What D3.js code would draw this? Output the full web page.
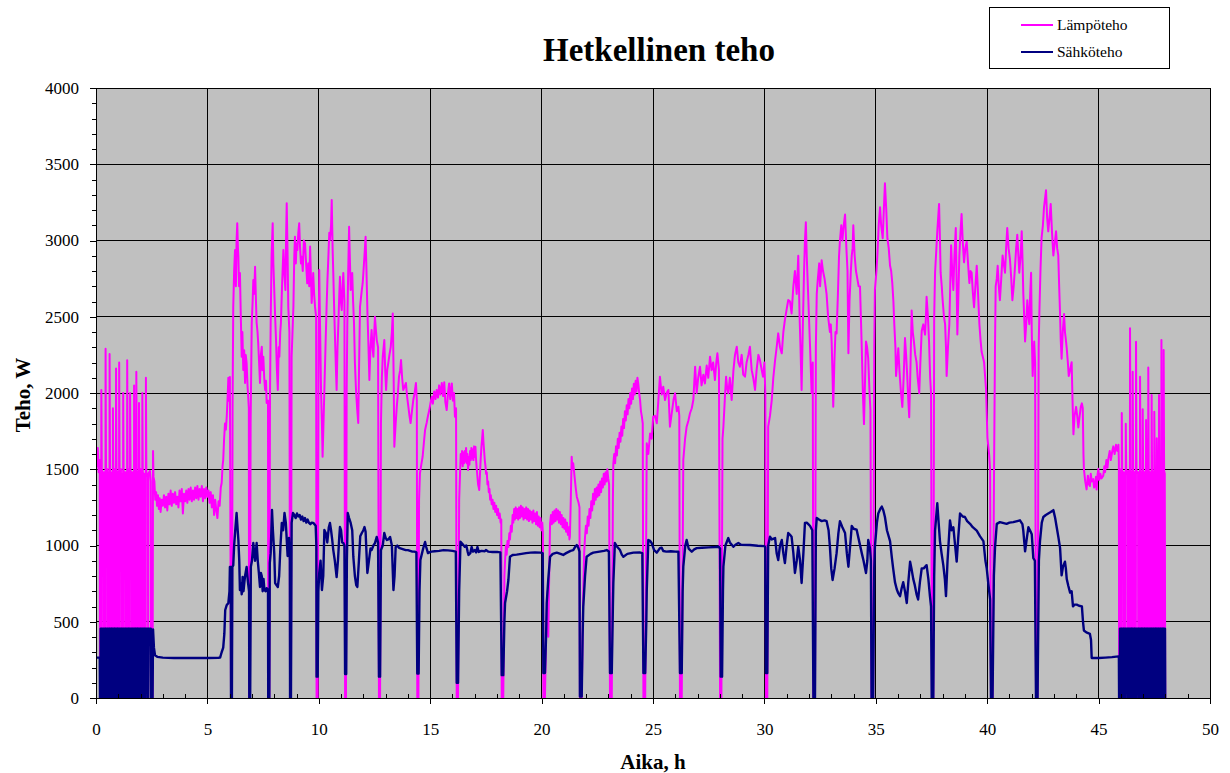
<!DOCTYPE html>
<html><head><meta charset="utf-8">
<script src="https://cdn.jsdelivr.net/npm/d3@7/dist/d3.min.js"></script>
<style>body{margin:0;background:#fff}</style>
</head><body><svg id="c" width="1230" height="773"></svg>
<script>
const chartTitle = "Hetkellinen teho";
const xLabel = "Aika, h";
const yLabel = "Teho, W";
const seriesNames = ["Lämpöteho", "Sähköteho"];
const xTicks = [0, 5, 10, 15, 20, 25, 30, 35, 40, 45, 50];
const yTicks = [0, 500, 1000, 1500, 2000, 2500, 3000, 3500, 4000];

// Lämpöteho [h, W]
const lampoteho = [
[0,1600],[0.04,1520],[0.08,1640],[0.12,1480],[0.17,1560],[0.18,0],[0.23,0],[0.24,2020],[0.26,1500],[0.32,1460],[0.33,0],[0.35,0],[0.36,1480],[0.41,1450],[0.42,0],[0.43,2290],[0.45,1480],[0.51,1500],[0.52,0],[0.53,0],[0.54,1460],[0.59,1480],[0.60,0],[0.61,2255],[0.63,1500],[0.68,1450],[0.69,0],[0.70,1470],[0.74,1480],[0.75,0],[0.76,1900],[0.78,1460],[0.82,1500],[0.83,0],[0.84,1450],[0.88,1480],[0.89,0],[0.90,2160],[0.92,1500],[0.96,1460],[0.97,0],[0.98,1480],[1.02,1450],[1.03,0],[1.04,2200],[1.06,1480],[1.12,1500],[1.13,0],[1.14,1470],[1.20,1450],[1.21,0],[1.22,2000],[1.24,1490],[1.30,1460],[1.31,0],[1.32,1480],[1.38,1450],[1.39,0],[1.40,2215],[1.42,1480],[1.46,1500],[1.47,0],[1.48,1470],[1.51,1450],[1.52,0],[1.53,2000],[1.55,1490],[1.61,1460],[1.62,0],[1.63,1480],[1.69,1450],[1.70,0],[1.71,2050],[1.73,1480],[1.75,1460],[1.76,0],[1.77,1470],[1.79,1450],[1.80,0],[1.81,2140],[1.83,1490],[1.86,1470],[1.87,0],[1.88,1480],[1.91,1450],[1.92,0],[1.93,1935],[1.95,1480],[2.00,1500],[2.01,0],[2.02,1470],[2.06,1450],[2.07,0],[2.08,2000],[2.10,1480],[2.15,1460],[2.16,0],[2.17,1470],[2.22,1450],[2.23,0],[2.24,2100],[2.26,1480],[2.33,1450],[2.34,0],[2.35,1470],[2.42,1490],[2.46,1420],[2.47,0],[2.54,0],[2.56,1620],[2.58,1450],
[2.62,1420],[2.66,1300],[2.70,1350],[2.74,1260],[2.78,1330],[2.82,1240],[2.86,1310],[2.90,1220],[2.95,1300],[3.00,1260],[3.05,1330],[3.10,1250],[3.15,1320],[3.20,1230],[3.25,1340],[3.30,1270],[3.35,1360],[3.40,1260],[3.45,1340],[3.50,1280],[3.55,1350],[3.60,1270],[3.65,1320],[3.70,1250],[3.75,1360],[3.80,1290],[3.85,1370],[3.90,1210],[3.95,1340],[4.00,1290],[4.05,1360],[4.10,1280],[4.15,1370],[4.20,1300],[4.25,1380],[4.30,1290],[4.35,1360],[4.40,1300],[4.45,1380],[4.50,1310],[4.55,1390],[4.60,1300],[4.65,1370],[4.70,1320],[4.75,1390],[4.80,1290],[4.85,1370],[4.90,1310],[4.95,1380],[5.00,1320],[5.05,1360],[5.10,1280],[5.15,1350],[5.20,1250],[5.25,1330],[5.30,1200],[5.35,1300],[5.40,1230],[5.45,1180],[5.50,1290],[5.55,1260],[5.60,1380],[5.64,1410],[5.68,1520],[5.71,1560],[5.75,1700],[5.79,1800],[5.83,1760],[5.87,1850],[5.91,1980],[5.94,2100],[5.97,1950],[6.01,2105],[6.03,1200],
[6.06,0],[6.10,0],[6.13,1900],[6.16,2566],[6.20,2800],[6.24,2938],[6.28,2700],[6.31,3000],[6.34,3113],[6.37,2950],[6.39,2894],[6.42,2700],[6.46,2787],[6.50,2500],[6.54,2238],[6.57,2400],[6.61,2151],[6.65,2280],[6.69,2066],[6.72,2250],[6.76,2197],[6.80,2050],[6.84,1954],[6.86,1900],[6.87,0],[6.91,0],[6.94,1800],[6.99,2459],[7.03,2600],[7.06,2741],[7.10,2650],[7.14,2828],[7.18,2600],[7.21,2459],[7.25,2400],[7.28,2328],[7.32,2200],[7.36,2066],[7.40,2250],[7.44,2303],[7.47,2150],[7.51,2238],[7.55,2100],[7.59,2020],[7.63,2080],[7.66,1934],[7.72,1950],[7.73,0],[7.78,0],[7.81,2000],[7.84,2459],[7.88,2900],[7.93,3113],[7.96,2850],[8.00,2675],[8.04,2500],[8.08,2347],[8.12,2150],[8.16,2020],[8.20,2300],[8.23,2238],[8.27,2400],[8.30,2459],[8.35,2700],[8.41,2938],[8.45,2800],[8.50,2675],[8.53,3000],[8.56,3244],[8.60,2900],[8.63,2566],[8.68,2400],[8.71,0],[8.75,0],[8.78,2238],[8.82,2400],[8.86,2566],[8.90,2900],[8.93,3025],[8.97,2850],[9.00,2980],[9.04,2938],[9.08,3050],[9.12,3113],[9.16,2950],[9.20,2850],[9.23,2894],[9.28,2800],[9.33,3000],[9.38,2981],[9.43,2850],[9.48,2719],[9.53,2850],[9.57,2700],[9.61,2960],[9.65,2750],[9.68,2590],[9.72,2700],[9.75,2787],[9.79,2650],[9.83,2566],[9.88,2500],[9.90,0],[9.95,0],[9.99,2300],[10.02,2806],[10.06,2400],[10.10,2020],[10.14,1800],[10.17,1582],[10.21,1800],[10.25,2020],[10.30,2300],[10.35,2566],[10.39,2750],[10.43,2894],[10.47,3050],[10.50,3003],[10.55,3100],[10.58,3265],
[10.62,2950],[10.65,2787],[10.69,2550],[10.73,2347],[10.77,2150],[10.80,2020],[10.84,2300],[10.88,2459],[10.92,2650],[10.95,2762],[10.99,2600],[11.03,2544],[11.07,2700],[11.10,2787],[11.15,2600],[11.18,0],[11.22,0],[11.25,2000],[11.28,2459],[11.32,2800],[11.36,3090],[11.40,2850],[11.43,2675],[11.47,2700],[11.50,2787],[11.54,2600],[11.58,2459],[11.62,2200],[11.67,2020],[11.72,1900],[11.77,1803],[11.81,2200],[11.85,2566],[11.89,2620],[11.93,2675],[11.97,2720],[12.00,2787],[12.05,2900],[12.10,3025],[12.14,2800],[12.18,2544],[12.23,2300],[12.27,2085],[12.32,2300],[12.37,2413],[12.41,2300],[12.45,2238],[12.49,2400],[12.52,2500],[12.56,2420],[12.60,2347],[12.66,2300],[12.70,0],[12.75,0],[12.79,1803],[12.83,2100],[12.87,2238],[12.91,2300],[12.94,2347],[12.98,2150],[13.02,2020],[13.07,2150],[13.12,2197],[13.17,2250],[13.23,2303],[13.28,2400],[13.32,2522],[13.36,2100],[13.39,1648],[13.45,1800],[13.50,1910],[13.55,2000],[13.60,2107],[13.65,2150],[13.69,2216],[13.74,2100],[13.79,2020],[13.85,2040],[13.91,2066],[13.96,1980],[14.02,1910],[14.07,1850],[14.12,1803],[14.18,1880],[14.24,1954],[14.30,2000],[14.36,2066],[14.40,1950],[14.42,0],[14.47,0],[14.50,1300],[14.54,1473],[14.60,1530],[14.66,1582],[14.72,1680],[14.77,1757],[14.84,1803],[14.90,1850],[14.96,1888],[15.02,1940],[15.07,1976],[15.12,1930],[15.18,2010],[15.24,1960],[15.29,2020],[15.35,1970],[15.40,2050],[15.46,1990],[15.52,2066],[15.58,1980],[15.63,2070],[15.68,1940],[15.74,1888],[15.80,2000],[15.85,2063],[15.90,1960],[15.97,2063],[16.02,1950],[16.07,2000],[16.11,1845],[16.16,1900],[16.19,0],[16.25,0],
[16.30,1300],[16.34,1473],[16.37,1600],[16.40,1540],[16.43,1620],[16.46,1520],[16.49,1610],[16.52,1540],[16.55,1620],[16.58,1550],[16.61,1640],[16.64,1540],[16.67,1600],[16.70,1495],[16.73,1580],[16.76,1530],[16.79,1620],[16.82,1560],[16.85,1640],[16.88,1570],[16.91,1630],[16.94,1560],[16.97,1650],[17.00,1580],[17.03,1648],[17.06,1560],[17.09,1500],[17.12,1450],[17.15,1400],[17.18,1380],[17.20,1364],[17.23,1450],[17.26,1550],[17.30,1650],[17.33,1700],[17.36,1757],[17.39,1680],[17.42,1620],[17.45,1560],[17.48,1520],[17.51,1470],[17.54,1480],[17.57,1400],[17.60,1420],[17.63,1350],[17.66,1370],[17.69,1300],[17.72,1330],[17.76,1270],[17.80,1300],[17.84,1240],[17.88,1280],[17.92,1220],[17.96,1260],[18.00,1200],[18.04,1240],[18.08,1180],[18.12,1210],[18.16,1150],[18.19,1170],[18.21,0],
[18.28,0],[18.33,800],[18.36,900],[18.40,1000],[18.43,940],[18.47,1030],[18.51,990],[18.55,1080],[18.58,1040],[18.62,1130],[18.66,1090],[18.70,1200],[18.73,1150],[18.77,1240],[18.80,1170],[18.84,1250],[18.88,1180],[18.92,1240],[18.95,1170],[18.99,1250],[19.03,1180],[19.07,1260],[19.11,1190],[19.15,1250],[19.19,1170],[19.23,1240],[19.27,1180],[19.31,1250],[19.35,1170],[19.39,1240],[19.43,1160],[19.47,1230],[19.51,1170],[19.55,1220],[19.59,1150],[19.63,1230],[19.67,1160],[19.71,1210],[19.75,1140],[19.79,1220],[19.83,1130],[19.87,1190],[19.91,1120],[19.95,1180],[19.99,1100],[20.03,1150],[20.06,1080],[20.08,0],[20.15,0],[20.20,400],[20.23,533],[20.27,700],[20.30,402],[20.34,800],
[20.38,1145],[20.42,1200],[20.46,1140],[20.50,1220],[20.54,1150],[20.58,1230],[20.62,1160],[20.66,1240],[20.70,1170],[20.74,1230],[20.78,1150],[20.82,1220],[20.86,1140],[20.90,1200],[20.94,1120],[20.98,1180],[21.02,1110],[21.06,1170],[21.10,1090],[21.14,1150],[21.18,1070],[21.22,1120],[21.25,1040],[21.27,1058],[21.31,1300],[21.35,1582],[21.38,1500],[21.42,1539],[21.48,1450],[21.53,1380],[21.58,1320],[21.66,1280],[21.70,1250],[21.72,0],[21.80,0],
[21.87,700],[21.91,950],[21.95,1058],[21.99,1130],[22.03,1080],[22.07,1190],[22.11,1130],[22.15,1240],[22.19,1180],[22.23,1290],[22.27,1230],[22.31,1340],[22.35,1270],[22.39,1370],[22.43,1300],[22.47,1380],[22.51,1320],[22.55,1400],[22.59,1330],[22.63,1420],[22.67,1350],[22.71,1440],[22.75,1380],[22.79,1470],[22.83,1400],[22.87,1480],[22.91,1420],[22.95,1500],[22.99,1440],[23.03,1400],[23.07,0],[23.15,0],[23.20,1300],
[23.22,1539],[23.26,1600],[23.30,1540],[23.34,1650],[23.38,1590],[23.42,1700],[23.46,1640],[23.50,1740],[23.54,1680],[23.58,1780],[23.62,1720],[23.66,1830],[23.70,1770],[23.74,1880],[23.78,1820],[23.82,1920],[23.86,1860],[23.90,1960],[23.94,1900],[23.98,2000],[24.02,1930],[24.06,2030],[24.10,1960],[24.14,2060],[24.18,1990],[24.22,2080],[24.26,2010],[24.30,2100],[24.34,2060],[24.38,2000],[24.42,1954],[24.46,1880],[24.50,1845],[24.54,1800],[24.57,0],[24.65,0],
[24.72,1670],[24.79,1600],[24.87,1735],[24.94,1700],[25.01,1845],[25.09,1850],[25.17,1801],[25.24,1950],[25.31,2107],[25.39,1990],[25.46,2041],[25.54,1954],[25.61,2000],[25.69,2020],[25.76,1779],[25.84,1867],[25.92,1954],[25.99,1998],[26.07,1880],[26.14,1910],[26.18,1850],[26.21,0],[26.29,0],[26.36,1561],[26.44,1700],[26.51,1779],[26.59,1820],[26.66,1867],[26.74,1900],[26.81,1954],[26.89,2172],[26.96,2000],[27.03,2100],[27.11,2172],[27.18,2050],[27.26,2120],[27.33,2063],[27.41,2180],[27.48,2100],[27.56,2238],[27.63,2150],[27.70,2200],[27.78,2085],[27.84,2200],[27.89,2260],[27.96,2150],[28.01,0],[28.07,0],[28.12,1700],[28.16,1779],[28.22,1950],[28.28,2107],[28.33,2030],[28.38,1998],[28.45,2100],[28.53,1954],[28.61,2150],[28.68,2250],[28.76,2303],[28.83,2200],[28.90,2172],[28.98,2250],[29.05,2120],[29.13,2107],[29.20,2200],[29.28,2250],[29.35,2303],[29.43,2150],[29.50,2100],[29.58,2020],[29.65,2150],[29.73,2250],[29.80,2216],[29.88,2150],[29.94,2107],[30.00,2200],[30.04,2000],[30.07,0],[30.13,0],[30.17,1779],[30.25,1850],[30.33,1954],[30.40,2100],[30.48,2216],[30.55,2300],[30.62,2391],[30.70,2300],[30.78,2260],[30.85,2400],[30.92,2479],[31.00,2550],[31.07,2610],[31.15,2600],[31.22,2522],[31.30,2700],[31.37,2800],[31.45,2650],[31.52,2900],[31.58,2500],[31.62,2300],[31.67,2020],[31.72,2400],[31.78,2800],[31.82,3000],[31.86,3120],[31.90,2900],[31.95,2700],[32.00,2500],[32.05,2300],[32.12,2000],[32.17,2200],[32.20,0],[32.27,0],[32.31,2300],[32.35,2650],[32.40,2750],[32.46,2850],[32.50,2700],[32.57,2870],[32.63,2800],[32.70,2750],[32.79,2650],[32.86,2500],[32.94,2400],[32.98,2450],[33.02,2328],[33.06,2100],[33.09,1910],[33.14,2200],[33.19,2400],[33.24,2391],[33.30,2650],[33.35,2900],[33.39,3000],[33.45,3100],[33.50,3000],[33.56,3100],[33.62,3170],[33.68,2950],[33.73,2800],[33.77,2260],[33.82,2600],[33.88,2800],[33.92,2900],[33.96,2950],[33.99,3100],[34.05,2900],[34.11,2800],[34.17,2750],[34.23,2700],[34.29,2699],[34.33,2500],[34.37,2293],[34.42,2000],[34.47,1796],[34.52,2100],[34.56,2338],[34.61,2300],[34.66,2225],[34.72,2000],[34.76,1887],[34.81,0],[34.88,0],[34.93,2300],[34.96,2676],[35.03,2800],[35.07,2902],[35.13,3100],[35.19,3218],[35.24,3100],[35.31,3015],[35.36,3200],[35.41,3375],[35.47,3200],[35.52,3015],[35.58,2950],[35.64,2834],[35.69,2800],[35.74,2721],[35.79,2600],[35.83,2451],[35.88,2300],[35.91,2112],[35.96,2200],[36.01,2293],[36.06,2150],[36.12,2022],[36.19,1909],[36.25,2100],[36.31,2360],[36.36,2250],[36.41,2112],[36.46,1950],[36.50,1841],[36.56,2200],[36.61,2541],[36.66,2400],[36.71,2338],[36.77,2250],[36.83,2202],[36.88,2100],[36.95,1999],[37.00,2200],[37.06,2406],[37.13,2450],[37.21,2383],[37.25,2500],[37.28,2631],[37.34,2500],[37.39,2338],[37.44,2100],[37.48,1999],[37.52,0],[37.58,0],[37.62,2500],[37.66,2789],[37.72,2950],[37.76,3060],[37.84,3240],[37.88,3000],[37.91,2789],[37.96,2700],[38.00,2609],[38.06,2500],[38.11,2451],[38.15,2300],[38.18,2112],[38.24,2300],[38.30,2451],[38.34,2700],[38.38,2969],[38.43,2800],[38.48,2676],[38.53,2900],[38.59,3082],[38.63,2700],[38.66,2383],[38.70,2600],[38.75,2902],[38.80,3050],[38.85,3173],[38.90,3000],[38.96,2857],[39.02,2950],[39.08,2992],[39.14,2850],[39.20,2721],[39.25,2800],[39.30,2789],[39.36,2650],[39.41,2563],[39.47,2700],[39.53,2834],[39.59,2650],[39.65,2451],[39.70,2350],[39.75,2270],[39.80,2240],[39.86,2202],[39.91,2100],[39.95,2022],[40.01,1706],[40.05,1650],[40.09,1593],[40.13,1500],[40.17,0],[40.24,0],[40.31,1548],[40.35,2300],[40.38,2699],[40.43,2750],[40.47,2834],[40.52,2700],[40.57,2609],[40.63,2750],[40.69,2902],[40.74,2850],[40.80,2789],[40.85,2950],[40.90,3082],[40.96,2950],[41.02,2879],[41.08,2750],[41.13,2609],[41.19,2700],[41.25,2834],[41.30,2950],[41.35,3037],[41.40,2900],[41.44,2789],[41.50,2900],[41.55,3060],[41.59,2850],[41.62,2654],[41.66,2500],[41.70,2338],[41.75,2450],[41.80,2609],[41.85,2500],[41.89,2451],[41.93,2650],[41.97,2789],[42.00,2400],[42.04,2112],[42.08,2250],[42.11,2338],[42.15,2200],[42.19,0],[42.26,0],[42.31,2300],[42.34,2518],[42.39,2800],[42.44,3015],[42.50,3100],[42.55,3218],[42.60,3280],[42.64,3330],[42.69,3150],[42.74,3060],[42.80,3150],[42.85,3240],[42.91,3050],[42.97,2902],[43.03,2980],[43.09,3060],[43.14,2950],[43.19,2902],[43.23,2700],[43.27,2518],[43.30,2350],[43.34,2225],[43.39,2400],[43.45,2518],[43.49,2400],[43.53,2350],[43.57,2293],[43.62,2200],[43.66,2112],[43.72,2150],[43.79,2202],[43.83,1950],[43.87,1729],[43.92,1850],[43.99,1909],[44.04,1850],[44.09,1774],[44.15,1850],[44.20,1909],[44.25,1932],[44.29,1900],[44.32,1600],[44.34,1503],[44.40,1420],[44.46,1368],[44.52,1458],[44.57,1400],[44.61,1390],[44.65,1470],[44.69,1420],[44.76,1435],[44.80,1380],[44.84,1390],[44.88,1450],[44.91,1368],[44.95,1460],[44.99,1503],[45.03,1430],[45.08,1470],[45.13,1440],[45.21,1458],[45.26,1520],[45.29,1481],[45.35,1560],[45.40,1510],[45.44,1571],[45.50,1620],[45.55,1560],[45.61,1616],[45.66,1650],[45.72,1600],[45.78,1660],[45.84,1620],[45.89,1661],
[45.91,1550],[45.92,0],[45.95,0],[45.96,1500],[46.00,1480],[46.03,0],[46.04,1869],[46.06,1490],[46.12,1460],[46.13,0],[46.14,1480],[46.20,1470],[46.21,0],[46.22,1798],[46.24,1480],[46.31,1460],[46.32,0],[46.33,1490],[46.39,1470],[46.40,0],[46.41,2424],[46.43,1490],[46.46,1460],[46.47,0],[46.48,1480],[46.51,1460],[46.52,0],[46.53,2140],[46.55,1490],[46.60,1470],[46.61,0],[46.62,1480],[46.66,1460],[46.67,0],[46.68,2336],[46.70,1490],[46.77,1470],[46.78,0],[46.79,1480],[46.84,1460],[46.85,0],[46.86,2107],[46.88,1490],[46.92,1460],[46.93,0],[46.94,1480],[46.96,1470],[46.97,0],[46.98,1893],[47.00,1490],[47.05,1460],[47.06,0],[47.07,1480],[47.11,1470],[47.12,0],[47.13,1823],[47.15,1490],[47.17,1460],[47.18,0],[47.19,1480],[47.21,1470],[47.22,0],[47.23,2168],[47.25,1490],[47.30,1460],[47.31,0],[47.32,1480],[47.36,1470],[47.37,0],[47.38,1987],[47.40,1490],[47.44,1460],[47.45,0],[47.46,1480],[47.48,1470],[47.49,0],[47.50,1877],[47.52,1490],[47.55,1460],[47.56,0],[47.57,1480],[47.59,1470],[47.60,0],[47.61,1703],[47.63,1490],[47.66,1460],[47.67,0],[47.68,1480],[47.69,1470],[47.70,0],[47.71,1987],[47.73,1490],[47.76,1460],[47.77,0],[47.78,1480],[47.80,1470],[47.81,0],[47.82,2347],[47.84,1490],[47.87,1460],[47.88,0],[47.89,1480],[47.90,1470],[47.91,0],[47.92,2282],[47.94,1490],[47.97,1470],[47.99,0],[48.00,0]
];

// Sähköteho [h, W]
const sahkoteho = [
[0,265],[0.17,265],[0.18,0],[0.20,0],[0.21,455],[0.22,455],[0.23,0],[0.24,265],[0.25,455],[0.32,455],[0.33,0],[0.35,0],[0.36,455],[0.41,455],[0.42,0],[0.43,265],[0.44,455],[0.51,455],[0.52,0],[0.53,265],[0.54,455],[0.59,455],[0.60,0],[0.61,265],[0.62,455],[0.68,455],[0.69,0],[0.70,455],[0.74,455],[0.75,0],[0.76,265],[0.77,455],[0.82,455],[0.83,0],[0.84,455],[0.88,455],[0.89,0],[0.90,265],[0.91,455],[0.96,455],[0.97,0],[0.98,455],[1.02,455],[1.03,0],[1.04,265],[1.05,455],[1.12,455],[1.13,0],[1.14,455],[1.20,455],[1.21,0],[1.22,265],[1.23,455],[1.30,455],[1.31,0],[1.32,455],[1.38,455],[1.39,0],[1.40,265],[1.41,455],[1.46,455],[1.47,0],[1.48,455],[1.51,455],[1.52,0],[1.53,265],[1.54,455],[1.61,455],[1.62,0],[1.63,455],[1.69,455],[1.70,0],[1.71,265],[1.72,455],[1.75,455],[1.76,0],[1.77,455],[1.79,455],[1.80,0],[1.81,265],[1.82,455],[1.86,455],[1.87,0],[1.88,455],[1.91,455],[1.92,0],[1.93,265],[1.94,455],[2.00,455],[2.01,0],[2.02,455],[2.06,455],[2.07,0],[2.08,265],[2.09,455],[2.15,455],[2.16,0],[2.17,455],[2.22,455],[2.23,0],[2.24,265],[2.25,455],[2.33,455],[2.34,0],[2.35,265],[2.36,455],[2.46,455],[2.47,0],[2.54,0],[2.56,450],[2.60,330],[2.65,280],[2.75,270],[3.00,265],[3.5,262],[4.0,262],[4.5,262],[5.0,262],[5.5,264],[5.57,265],[5.64,300],[5.71,330],[5.76,420],[5.80,577],[5.87,610],[5.94,622],[5.99,700],[6.01,860],[6.05,860],
[6.06,0],[6.10,0],[6.12,860],[6.16,870],[6.20,1000],[6.25,1100],[6.31,1213],[6.36,1100],[6.39,1036],[6.43,900],[6.46,708],[6.50,750],[6.54,680],[6.58,793],[6.62,700],[6.66,760],[6.69,800],[6.76,860],[6.82,760],[6.87,700],[6.88,0],[6.92,0],[6.95,860],[7.00,900],[7.06,1016],[7.10,950],[7.14,900],[7.21,1016],[7.26,900],[7.31,820],[7.36,728],[7.40,820],[7.44,800],[7.48,700],[7.52,780],[7.56,708],[7.62,700],[7.66,720],[7.72,708],[7.73,0],[7.78,0],[7.80,885],[7.84,950],[7.90,1233],[7.94,1100],[8.00,950],[8.04,754],[8.10,740],[8.16,728],[8.22,800],[8.28,1000],[8.34,1148],[8.40,1100],[8.46,1213],[8.52,1150],[8.60,931],[8.66,1050],[8.70,900],[8.71,0],[8.75,0],[8.78,1148],[8.84,1213],[8.90,1200],[8.96,1180],[9.02,1210],[9.08,1190],[9.14,1200],[9.20,1170],[9.26,1190],[9.32,1160],[9.38,1180],[9.44,1150],[9.50,1170],[9.56,1148],[9.62,1140],[9.68,1150],[9.75,1148],[9.80,1140],[9.86,1130],[9.89,1000],[9.90,140],[9.95,140],[9.98,700],[10.02,820],[10.08,900],[10.14,708],[10.20,800],[10.25,1102],[10.32,1080],[10.38,1020],[10.45,1120],[10.50,1148],[10.55,1100],[10.60,1040],[10.65,970],[10.72,900],[10.80,793],[10.86,900],[10.92,1060],[10.95,1121],[11.00,1100],[11.05,1020],[11.10,1016],[11.15,1000],[11.18,157],[11.23,157],[11.26,900],[11.30,1213],[11.36,1180],[11.43,1148],[11.50,1100],[11.55,925],[11.62,800],[11.68,740],[11.73,728],[11.80,900],[11.86,1060],[11.93,1082],[12.00,1100],[12.05,1121],[12.10,1090],[12.18,820],[12.25,900],[12.32,980],[12.37,970],[12.45,1000],[12.52,1016],[12.60,1056],[12.66,1020],[12.70,140],[12.75,140],[12.79,970],[12.87,1000],[12.94,1082],[13.00,1050],[13.06,1036],[13.12,1040],[13.20,1056],[13.28,1000],[13.35,708],[13.40,800],[13.45,990],[13.52,1000],[13.60,985],[13.70,980],[13.80,975],[13.90,970],[14.00,970],[14.10,965],[14.20,960],[14.30,960],[14.38,955],[14.42,160],[14.48,160],[14.52,700],[14.56,905],[14.65,960],[14.72,1000],[14.77,1023],[14.82,990],[14.90,950],[14.96,955],[15.05,960],[15.20,962],[15.40,965],[15.60,970],[15.80,968],[16.00,965],[16.15,960],[16.19,100],[16.25,100],[16.30,700],[16.36,1025],[16.45,1010],[16.55,992],[16.62,1000],[16.68,960],[16.72,938],[16.80,950],[16.86,990],[16.92,960],[17.00,970],[17.06,955],[17.12,990],[17.18,958],[17.30,965],[17.45,962],[17.50,970],[17.60,960],[17.80,957],[18.00,958],[18.15,955],[18.21,150],[18.28,150],[18.33,500],[18.36,623],[18.45,700],[18.51,774],[18.58,926],[18.70,938],[18.88,940],[19.10,945],[19.30,950],[19.50,953],[19.70,955],[19.95,953],[20.05,950],[20.08,164],[20.15,164],[20.20,400],[20.23,623],[20.30,780],[20.38,926],[20.50,945],[20.68,953],[20.85,945],[20.97,938],[21.10,950],[21.30,965],[21.42,970],[21.50,990],[21.58,1003],[21.66,980],[21.70,960],[21.72,10],[21.80,10],[21.84,400],[21.87,598],[21.95,800],[22.02,926],[22.20,945],[22.32,953],[22.60,960],[22.80,965],[22.92,970],[23.02,960],[23.07,164],[23.15,164],[23.20,600],[23.22,754],[23.29,1016],[23.40,990],[23.52,970],[23.60,940],[23.67,926],[23.85,945],[24.12,953],[24.40,955],[24.52,950],[24.57,164],[24.65,164],[24.70,500],[24.72,708],[24.79,1036],[24.87,1030],[24.94,1016],[25.05,970],[25.17,953],[25.25,970],[25.31,983],[25.39,986],[25.46,964],[25.60,960],[25.80,962],[26.00,960],[26.14,959],[26.21,164],[26.29,164],[26.33,700],[26.36,861],[26.45,1000],[26.51,1036],[26.60,980],[26.74,959],[26.85,975],[26.96,983],[27.20,985],[27.50,988],[27.80,990],[27.95,992],[28.01,980],[28.04,140],[28.10,140],[28.14,700],[28.16,861],[28.25,1000],[28.38,1049],[28.45,1020],[28.61,992],[28.70,1005],[28.83,1016],[28.95,1005],[29.35,1003],[29.70,998],[30.00,996],[30.04,990],[30.07,164],[30.13,164],[30.17,1000],[30.25,1058],[30.33,1040],[30.48,1049],[30.55,950],[30.62,905],[30.70,1000],[30.78,1036],[30.85,950],[30.92,885],[31.00,1000],[31.07,1082],[31.15,1070],[31.22,1058],[31.30,950],[31.37,820],[31.45,900],[31.52,992],[31.60,900],[31.67,754],[31.75,950],[31.82,1148],[31.90,1150],[31.97,1140],[32.05,1128],[32.15,1100],[32.20,0],[32.27,0],[32.31,1100],[32.35,1180],[32.45,1170],[32.57,1160],[32.70,1165],[32.79,1160],[32.88,1100],[32.94,992],[33.00,850],[33.06,774],[33.15,850],[33.24,950],[33.32,1080],[33.39,1160],[33.50,1120],[33.62,1082],[33.70,950],[33.77,861],[33.85,1000],[33.92,1128],[34.00,1110],[34.14,1104],[34.22,1050],[34.37,950],[34.45,900],[34.56,820],[34.62,900],[34.66,1036],[34.74,980],[34.78,900],[34.81,0],[34.88,0],[34.93,850],[34.96,992],[35.05,1150],[35.11,1210],[35.20,1240],[35.27,1255],[35.34,1230],[35.41,1187],[35.50,1100],[35.64,1029],[35.72,920],[35.78,849],[35.86,760],[35.94,713],[36.00,690],[36.09,668],[36.16,720],[36.23,759],[36.31,700],[36.39,623],[36.46,760],[36.54,894],[36.60,850],[36.68,781],[36.75,740],[36.83,680],[36.90,646],[36.98,760],[37.06,849],[37.15,850],[37.28,871],[37.36,780],[37.43,668],[37.48,600],[37.51,0],[37.58,0],[37.62,800],[37.66,1097],[37.76,1277],[37.82,1150],[37.88,1029],[37.95,950],[38.03,871],[38.10,780],[38.15,668],[38.22,900],[38.33,1165],[38.40,1100],[38.48,1120],[38.56,1000],[38.63,894],[38.70,1050],[38.78,1210],[38.90,1190],[39.00,1187],[39.10,1160],[39.23,1142],[39.35,1120],[39.53,1097],[39.68,1060],[39.83,1029],[39.92,900],[39.98,849],[40.05,750],[40.13,646],[40.17,0],[40.24,0],[40.30,800],[40.35,984],[40.43,1142],[40.57,1153],[40.70,1148],[40.87,1142],[41.00,1150],[41.17,1153],[41.35,1160],[41.47,1165],[41.58,1140],[41.62,1097],[41.70,962],[41.78,1050],[41.85,1120],[41.92,1100],[42.00,1074],[42.07,917],[42.14,900],[42.19,0],[42.26,0],[42.32,900],[42.37,1029],[42.45,1150],[42.52,1187],[42.63,1200],[42.74,1210],[42.85,1220],[42.97,1232],[43.05,1180],[43.12,1120],[43.20,1050],[43.27,984],[43.34,804],[43.40,860],[43.49,894],[43.53,850],[43.57,780],[43.64,736],[43.72,691],[43.79,700],[43.85,601],[43.92,612],[44.02,612],[44.12,605],[44.25,601],[44.30,500],[44.34,443],[44.45,430],[44.61,420],[44.66,380],[44.69,262],[44.80,262],[45.00,262],[45.30,265],[45.60,268],[45.89,273],
[45.91,273],[45.92,0],[45.95,0],[45.96,455],[46.02,455],[46.03,0],[46.04,265],[46.05,455],[46.12,455],[46.13,0],[46.14,455],[46.20,455],[46.21,0],[46.22,265],[46.23,455],[46.31,455],[46.32,0],[46.33,455],[46.39,455],[46.40,0],[46.41,265],[46.42,455],[46.46,455],[46.47,0],[46.48,455],[46.51,455],[46.52,0],[46.53,265],[46.54,455],[46.60,455],[46.61,0],[46.62,455],[46.66,455],[46.67,0],[46.68,265],[46.69,455],[46.77,455],[46.78,0],[46.79,455],[46.84,455],[46.85,0],[46.86,265],[46.87,455],[46.92,455],[46.93,0],[46.94,455],[46.96,455],[46.97,0],[46.98,265],[46.99,455],[47.05,455],[47.06,0],[47.07,455],[47.11,455],[47.12,0],[47.13,265],[47.14,455],[47.17,455],[47.18,0],[47.19,455],[47.21,455],[47.22,0],[47.23,265],[47.24,455],[47.30,455],[47.31,0],[47.32,455],[47.36,455],[47.37,0],[47.38,265],[47.39,455],[47.44,455],[47.45,0],[47.46,455],[47.48,455],[47.49,0],[47.50,265],[47.51,455],[47.55,455],[47.56,0],[47.57,455],[47.59,455],[47.60,0],[47.61,265],[47.62,455],[47.66,455],[47.67,0],[47.68,455],[47.69,455],[47.70,0],[47.71,265],[47.72,455],[47.76,455],[47.77,0],[47.78,455],[47.80,455],[47.81,0],[47.82,265],[47.83,455],[47.87,455],[47.88,0],[47.89,455],[47.90,455],[47.91,0],[47.92,265],[47.93,455],[47.98,455],[47.99,0],[48.00,0]
];

const colors = ["#FF00FF", "#000080"];
const fontFam = '"Liberation Serif","Times New Roman",Times,serif';

const svg = d3.select("#c");
const L = 96, R = 1210, T = 88, B = 698;
const x = d3.scaleLinear().domain([0, 50]).range([L, R]);
const y = d3.scaleLinear().domain([0, 4000]).range([B, T]);

svg.append("rect").attr("x", L).attr("y", T).attr("width", R - L).attr("height", B - T).attr("fill", "#C0C0C0");

// gridlines
const g = svg.append("g").attr("shape-rendering", "crispEdges");
g.selectAll(".hx").data(yTicks.filter(d => d > 0)).join("line")
  .attr("x1", L).attr("x2", R).attr("y1", d => y(d)).attr("y2", d => y(d))
  .attr("stroke", "#000").attr("stroke-width", 1);
g.selectAll(".vx").data(xTicks.filter(d => d > 0)).join("line")
  .attr("y1", T).attr("y2", B).attr("x1", d => x(d)).attr("x2", d => x(d))
  .attr("stroke", "#000").attr("stroke-width", 1);

// series
svg.append("clipPath").attr("id", "pc").append("rect")
  .attr("x", L).attr("y", T - 2).attr("width", R - L).attr("height", B - T + 2);
const line = d3.line().x(d => x(d[0])).y(d => y(d[1]));
const plot = svg.append("g").attr("clip-path", "url(#pc)");
plot.append("path").datum(lampoteho).attr("d", line).attr("fill", "none")
  .attr("stroke", colors[0]).attr("stroke-width", 2).attr("stroke-linejoin", "round");
plot.append("path").datum(sahkoteho).attr("d", line).attr("fill", "none")
  .attr("stroke", colors[1]).attr("stroke-width", 2.4).attr("stroke-linejoin", "round");

// axes
const xAxis = d3.axisBottom(x).tickValues(xTicks).tickSize(6).tickFormat(d3.format("d"));
const xa = svg.append("g").attr("transform", `translate(0,${B})`).call(xAxis);
const xMinor = d3.axisBottom(x).tickValues(d3.range(0, 51, 1).filter(d => d % 5)).tickSize(-4).tickFormat("");
const xm = svg.append("g").attr("transform", `translate(0,${B})`).call(xMinor);
const yAxis = d3.axisLeft(y).tickValues(yTicks).tickSize(6).tickPadding(11).tickFormat(d3.format("d"));
const ya = svg.append("g").attr("transform", `translate(${L},0)`).call(yAxis);
const yMinor = d3.axisLeft(y).tickValues(d3.range(0, 4001, 100).filter(d => d % 500)).tickSize(4).tickFormat("");
const ym = svg.append("g").attr("transform", `translate(${L},0)`).call(yMinor);
[xa, xm, ya, ym].forEach(a => {
  a.attr("shape-rendering", "crispEdges").attr("font-family", fontFam).attr("font-size", 17);
  a.selectAll(".domain").attr("stroke", "#000");
  a.selectAll(".tick line").attr("stroke", "#000");
  a.selectAll("text").attr("fill", "#000");
});
xa.selectAll("text").attr("y", 37).attr("dy", null);

// titles
svg.append("text").attr("x", 659).attr("y", 61).attr("text-anchor", "middle")
  .attr("font-family", fontFam).attr("font-weight", "bold").attr("font-size", 33).text(chartTitle);
svg.append("text").attr("x", 653).attr("y", 769).attr("text-anchor", "middle")
  .attr("font-family", fontFam).attr("font-weight", "bold").attr("font-size", 21).text(xLabel);
svg.append("text").attr("transform", "translate(30,395) rotate(-90)").attr("text-anchor", "middle")
  .attr("font-family", fontFam).attr("font-weight", "bold").attr("font-size", 21).text(yLabel);

// legend
const lg = svg.append("g");
lg.append("rect").attr("x", 989.5).attr("y", 7.5).attr("width", 180).attr("height", 61)
  .attr("fill", "#fff").attr("stroke", "#000").attr("stroke-width", 1);
seriesNames.forEach((n, i) => {
  const yy = 25 + i * 27;
  lg.append("line").attr("x1", 1021).attr("x2", 1053).attr("y1", yy).attr("y2", yy)
    .attr("stroke", colors[i]).attr("stroke-width", 2);
  lg.append("text").attr("x", 1057).attr("y", yy + 5).attr("font-family", fontFam)
    .attr("font-size", 15.5).text(n);
});
</script></body></html>
